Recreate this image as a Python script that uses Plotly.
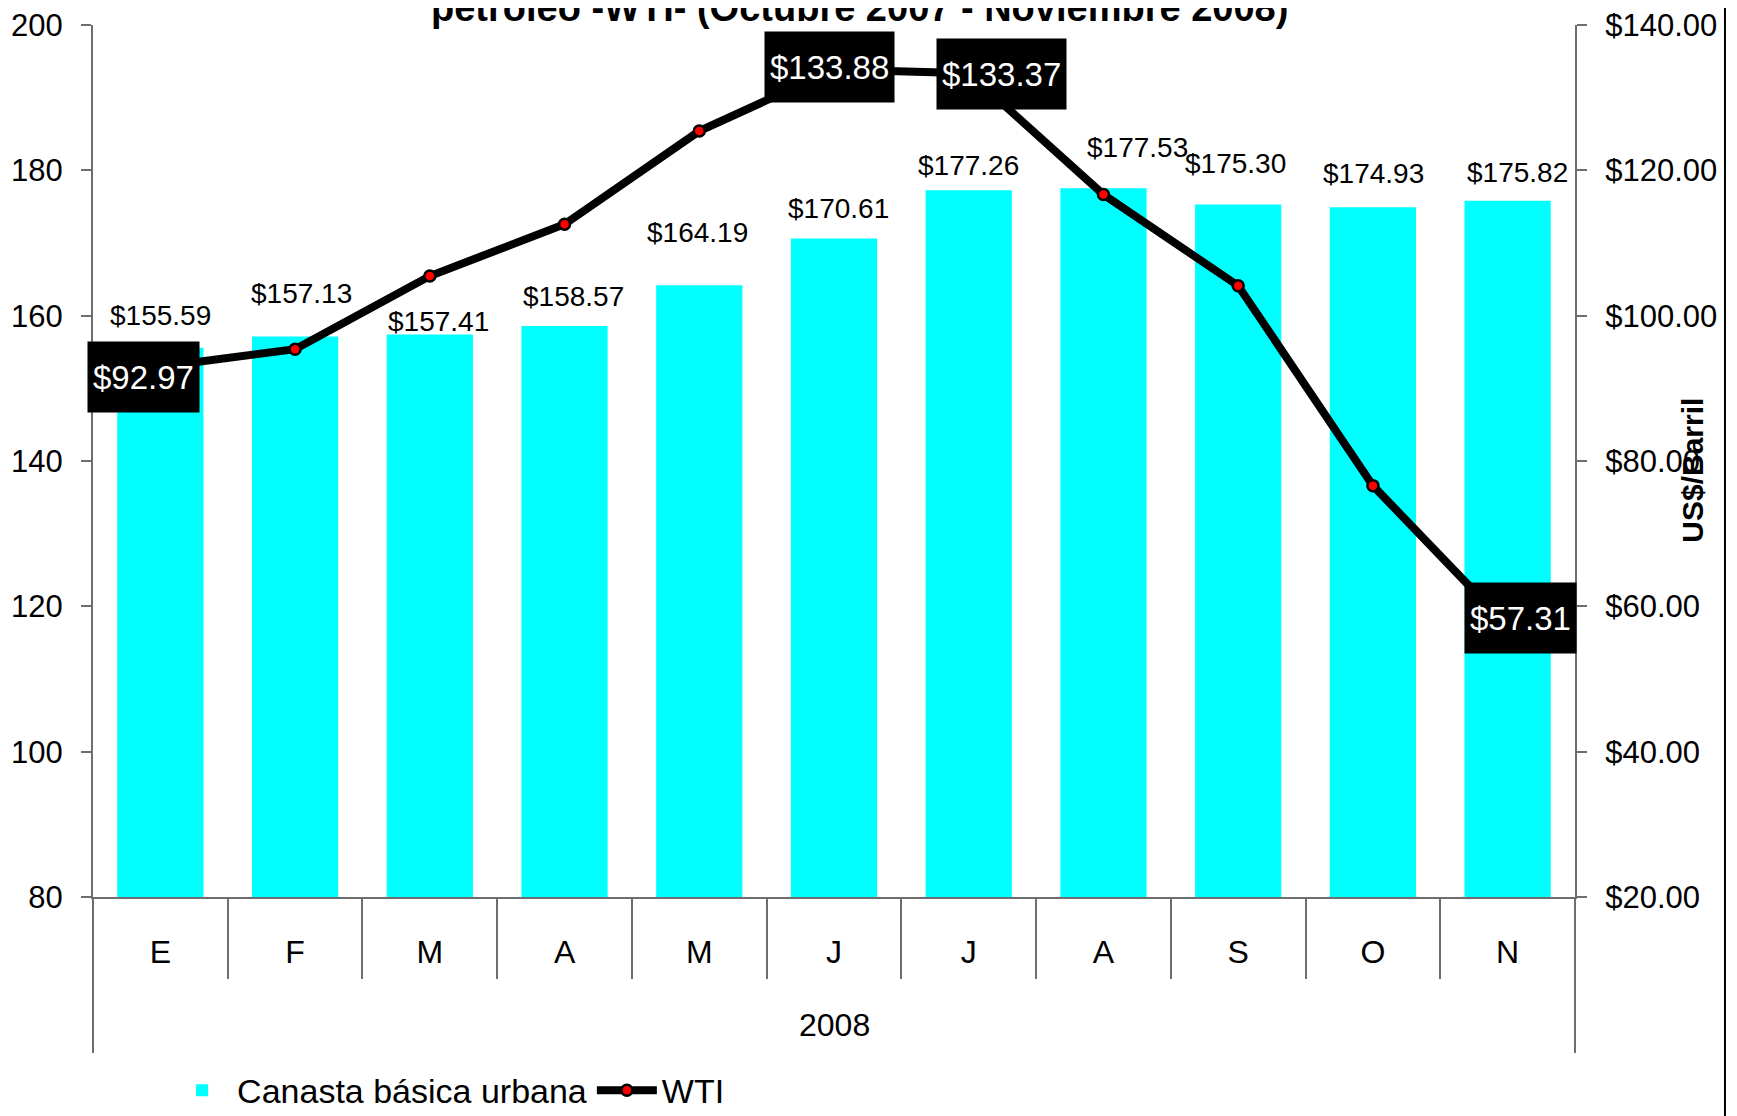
import plotly.graph_objects as go

months = ["E", "F", "M", "A", "M", "J", "J", "A", "S", "O", "N"]
year_label = "2008"
canasta = [155.59, 157.13, 157.41, 158.57, 164.19, 170.61, 177.26, 177.53, 175.30, 174.93, 175.82]
wti = [92.97, 95.39, 105.45, 112.58, 125.40, 133.88, 133.37, 116.67, 104.11, 76.61, 57.31]
wti_labeled = {0: "$92.97", 5: "$133.88", 6: "$133.37", 10: "$57.31"}

title_text = "petróleo -WTI- (Octubre 2007 - Noviembre 2008)"
y2_title = "US$/Barril"

# label placement tweaks (pixels), style only
bar_lbl_dy = [32, 43, 13, 30, 53, 30, 25, 41, 41, 34, 28]
bar_lbl_dx = [0, 6, 9, 9, -2, 4, 0, 34, -3, 1, 10]
wti_lbl_shift = {0: (-17, -10), 5: (-5, 2), 6: (33, -1), 10: (13, 8)}

FONT = "Liberation Sans, Arial, sans-serif"
AX = "#6e6e6e"
x = list(range(len(months)))

fig = go.Figure()
fig.add_trace(go.Bar(
    x=x, y=canasta, name="Canasta básica urbana",
    marker=dict(color="#00FFFF", line=dict(width=0)),
    yaxis="y", showlegend=True,
))
fig.add_trace(go.Scatter(
    x=x, y=wti, name="WTI", yaxis="y2", mode="lines+markers",
    line=dict(color="black", width=8),
    marker=dict(color="red", size=11, line=dict(color="black", width=2.5)),
    cliponaxis=False,
))

ann = []
for i, v in enumerate(canasta):
    ann.append(dict(x=i, y=v, xref="x", yref="y", text=f"${v:.2f}",
                    showarrow=False, yanchor="middle", xanchor="center",
                    xshift=bar_lbl_dx[i], yshift=bar_lbl_dy[i],
                    font=dict(family=FONT, size=28, color="black")))
for i, t in wti_labeled.items():
    dx, dy = wti_lbl_shift[i]
    ann.append(dict(x=i, y=wti[i], xref="x", yref="y2", text=t,
                    showarrow=False, yanchor="middle", xanchor="center",
                    xshift=dx, yshift=dy, bgcolor="black", borderpad=5,
                    height=60,
                    font=dict(family=FONT, size=33, color="white")))
ann.append(dict(x=0.5, y=-0.147, xref="paper", yref="paper", text=year_label,
                showarrow=False, yanchor="middle", xanchor="center",
                font=dict(family=FONT, size=32, color="black")))
ann.append(dict(x=0.517, y=1, xref="paper", yref="paper", text="<b>" + title_text + "</b>",
                showarrow=False, yanchor="middle", xanchor="center", yshift=17,
                font=dict(family=FONT, size=38, color="black")))
ann.append(dict(x=1.0796, y=0.49, xref="paper", yref="paper", text="<b>" + y2_title + "</b>",
                showarrow=False, textangle=-90, yanchor="middle", xanchor="center",
                font=dict(family=FONT, size=30, color="black")))

shapes = [
    dict(type="line", xref="paper", yref="paper", x0=0, x1=0, y0=0, y1=-0.179,
         line=dict(color=AX, width=2)),
    dict(type="line", xref="paper", yref="paper", x0=1, x1=1, y0=0, y1=-0.179,
         line=dict(color=AX, width=2)),
    dict(type="line", xref="paper", yref="paper", x0=1.1012, x1=1.1012, y0=-0.3, y1=1.1,
         line=dict(color="black", width=2)),
]

fig.update_layout(
    width=1737, height=1116,
    margin=dict(l=85, r=170, t=17, b=227, autoexpand=False),
    paper_bgcolor="white", plot_bgcolor="white",
    font=dict(family=FONT, size=30, color="black"),
    bargap=0.36,
    showlegend=True,
    legend=dict(orientation="h", x=0.05, xanchor="left", y=-0.222, yanchor="middle",
                font=dict(family=FONT, size=34, color="black"),
                bgcolor="rgba(0,0,0,0)", itemwidth=60, tracegroupgap=0),
    xaxis=dict(
        range=[-0.5, len(months) - 0.5], tickmode="array", tickvals=x, ticktext=months,
        ticks="", showline=True, linecolor=AX, linewidth=2, showgrid=False, zeroline=False,
        tickfont=dict(family=FONT, size=32, color="black"), ticklabelstandoff=26,
        automargin=False, ticklabeloverflow="allow",
        minor=dict(tickmode="array", tickvals=[i - 0.5 for i in range(len(months) + 1)],
                   ticks="outside", ticklen=80, tickwidth=2, tickcolor=AX, showgrid=False),
    ),
    yaxis=dict(
        range=[80, 200], dtick=20, tick0=80, ticks="outside", ticklen=10, tickwidth=2,
        tickcolor=AX, showline=True, linecolor=AX, linewidth=2, showgrid=False,
        zeroline=False, tickfont=dict(family=FONT, size=31, color="black"),
        ticklabelstandoff=12, automargin=False, ticklabeloverflow="allow",
    ),
    yaxis2=dict(
        range=[20, 140], dtick=20, tick0=20, overlaying="y", side="right",
        ticks="outside", ticklen=10, tickwidth=2, tickcolor=AX, showline=True,
        linecolor=AX, linewidth=2, showgrid=False, zeroline=False,
        tickprefix="$", tickformat=".2f", automargin=False, ticklabeloverflow="allow",
        tickfont=dict(family=FONT, size=31, color="black"), ticklabelstandoff=12,
    ),
    annotations=ann, shapes=shapes,
)

fig.write_html("out.html")
